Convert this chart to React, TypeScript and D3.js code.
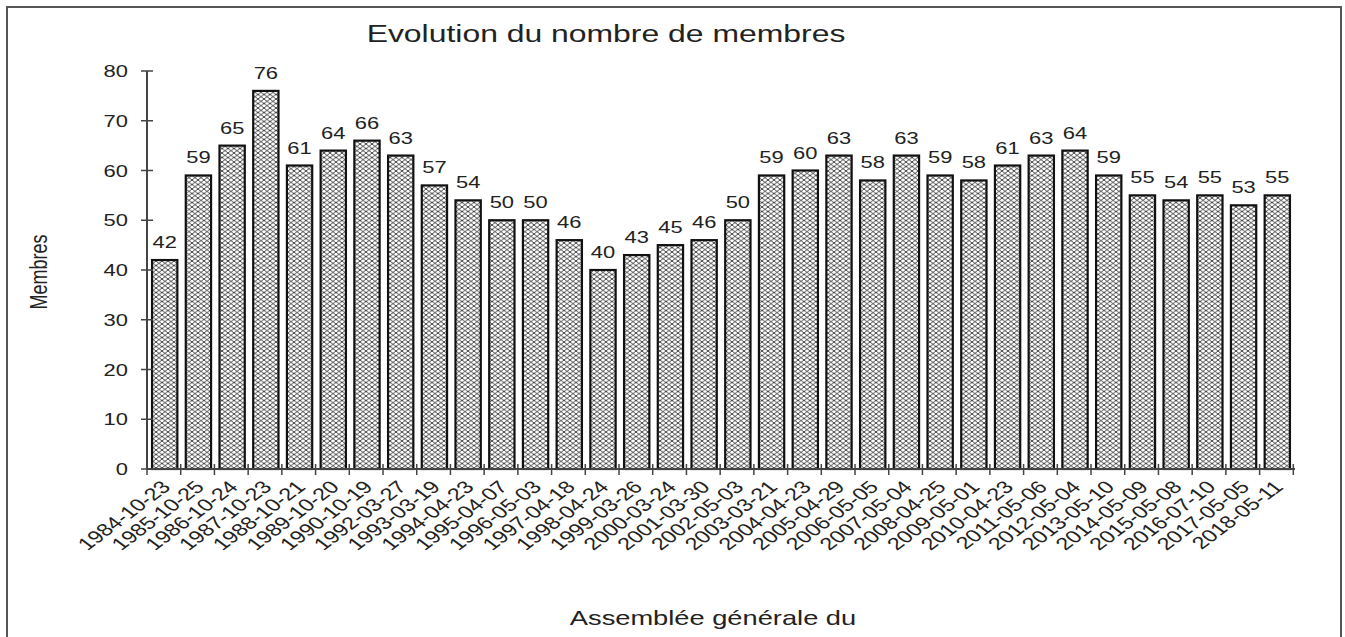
import React, { useEffect, useRef } from 'react';
import * as d3 from 'd3';

const dates = [
  '1984-10-23', '1985-10-25', '1986-10-24', '1987-10-23', '1988-10-21', '1989-10-20',
  '1990-10-19', '1992-03-27', '1993-03-19', '1994-04-23', '1995-04-07', '1996-05-03',
  '1997-04-18', '1998-04-24', '1999-03-26', '2000-03-24', '2001-03-30', '2002-05-03',
  '2003-03-21', '2004-04-23', '2005-04-29', '2006-05-05', '2007-05-04', '2008-04-25',
  '2009-05-01', '2010-04-23', '2011-05-06', '2012-05-04', '2013-05-10', '2014-05-09',
  '2015-05-08', '2016-07-10', '2017-05-05', '2018-05-11',
];
const membres = [
  42, 59, 65, 76, 61, 64, 66, 63, 57, 54, 50, 50, 46, 40, 43, 45, 46, 50,
  59, 60, 63, 58, 63, 59, 58, 61, 63, 64, 59, 55, 54, 55, 53, 55,
];
const yTicks = [0, 10, 20, 30, 40, 50, 60, 70, 80];

const title = 'Evolution du nombre de membres';
const xTitle = 'Assemblée générale du';
const yTitle = 'Membres';

// the picture looks stretched sideways, so text gets the same stretch
const SX = 1.33;

export default function App() {
  const svgRef = useRef<SVGSVGElement>(null);

  useEffect(() => {
    if (!svgRef.current) return;
    const svg = d3.select(svgRef.current);
    svg.selectAll('*').remove();

    const W = 1345;
    const H = 637;
    const font = 'Liberation Sans, Arial, sans-serif';
    const ink = '#222';

    svg.attr('width', W).attr('height', H);

    // fine hatch pattern for the bars
    const pat = svg.append('defs').append('pattern')
      .attr('id', 'hatch')
      .attr('patternUnits', 'userSpaceOnUse')
      .attr('width', 6)
      .attr('height', 4.5);
    pat.append('rect').attr('width', 6).attr('height', 4.5).attr('fill', '#fff');
    pat.append('path')
      .attr('d', 'M0,0 L3,2.25 L0,4.5 M6,0 L3,2.25 L6,4.5')
      .attr('stroke', '#333')
      .attr('stroke-width', 0.9)
      .attr('fill', 'none');

    // outer frame
    svg.append('rect')
      .attr('x', 7).attr('y', 7)
      .attr('width', 1334).attr('height', 640)
      .attr('fill', '#fff')
      .attr('stroke', '#555')
      .attr('stroke-width', 2);

    const x = d3.scaleBand<string>()
      .domain(dates)
      .range([147, 1295])
      .paddingInner(0.25)
      .paddingOuter(0.15);

    const y = d3.scaleLinear().domain([0, 80]).range([469, 71]);

    const step = x.step();
    const x0 = 147;

    // bars
    svg.append('g').selectAll('rect')
      .data(membres)
      .enter().append('rect')
      .attr('x', (_, i) => x(dates[i])!)
      .attr('y', d => y(d))
      .attr('width', x.bandwidth())
      .attr('height', d => y(0) - y(d))
      .attr('fill', 'url(#hatch)')
      .attr('stroke', '#111')
      .attr('stroke-width', 2.2);

    // value labels
    svg.append('g').selectAll('text')
      .data(membres)
      .enter().append('text')
      .attr('transform', (d, i) => `translate(${x(dates[i])! + x.bandwidth() / 2},${y(d) - 12}) scale(${SX},1)`)
      .attr('text-anchor', 'middle')
      .attr('font-family', font)
      .attr('font-size', 16.5)
      .attr('fill', ink)
      .text(d => d);

    // y axis
    const yAxis = svg.append('g');
    yAxis.append('line')
      .attr('x1', x0).attr('x2', x0)
      .attr('y1', y(80)).attr('y2', y(0))
      .attr('stroke', '#444').attr('stroke-width', 2);
    yAxis.selectAll('line.tick')
      .data(yTicks)
      .enter().append('line')
      .attr('class', 'tick')
      .attr('x1', x0 - 6).attr('x2', x0 + 6)
      .attr('y1', d => y(d)).attr('y2', d => y(d))
      .attr('stroke', '#444').attr('stroke-width', 1.5);
    yAxis.selectAll('text')
      .data(yTicks)
      .enter().append('text')
      .attr('transform', d => `translate(128,${y(d) + 6}) scale(${SX},1)`)
      .attr('text-anchor', 'end')
      .attr('font-family', font)
      .attr('font-size', 16.5)
      .attr('fill', ink)
      .text(d => d);

    // x axis
    const xAxis = svg.append('g');
    xAxis.append('line')
      .attr('x1', x0).attr('x2', 1295)
      .attr('y1', y(0)).attr('y2', y(0))
      .attr('stroke', '#444').attr('stroke-width', 2);
    xAxis.selectAll('line.tick')
      .data(d3.range(dates.length + 1))
      .enter().append('line')
      .attr('class', 'tick')
      .attr('x1', i => x0 + i * step).attr('x2', i => x0 + i * step)
      .attr('y1', y(0) - 5).attr('y2', y(0) + 6)
      .attr('stroke', '#444').attr('stroke-width', 1.5);
    xAxis.selectAll('text')
      .data(dates)
      .enter().append('text')
      .attr('transform', d => `translate(${x(d)! + x.bandwidth() / 2 + 7},${y(0) + 19}) scale(${SX},1) rotate(-45)`)
      .attr('text-anchor', 'end')
      .attr('font-family', font)
      .attr('font-size', 17.5)
      .attr('fill', ink)
      .text(d => d);

    // titles
    svg.append('text')
      .attr('transform', `translate(606,42) scale(${SX},1)`)
      .attr('text-anchor', 'middle')
      .attr('font-family', font)
      .attr('font-size', 24)
      .attr('fill', ink)
      .text(title);

    svg.append('text')
      .attr('transform', `translate(713,625) scale(${SX},1)`)
      .attr('text-anchor', 'middle')
      .attr('font-family', font)
      .attr('font-size', 20.5)
      .attr('fill', ink)
      .text(xTitle);

    svg.append('text')
      .attr('transform', `translate(47,272) scale(${SX},1) rotate(-90)`)
      .attr('text-anchor', 'middle')
      .attr('font-family', font)
      .attr('font-size', 18)
      .attr('fill', ink)
      .text(yTitle);
  }, []);

  return (
    <div style={{ position: 'absolute', left: 0, top: 0, background: '#fff' }}>
      <svg ref={svgRef} style={{ display: 'block' }}></svg>
    </div>
  );
}
